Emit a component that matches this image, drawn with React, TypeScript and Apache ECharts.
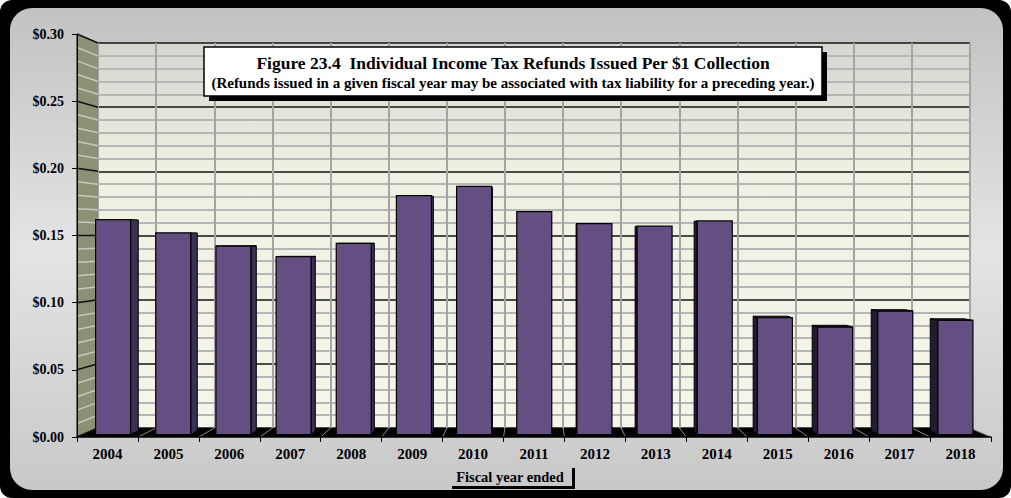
import React, { useEffect, useRef } from "react";
import * as echarts from "echarts";

const years = ["2004", "2005", "2006", "2007", "2008", "2009", "2010", "2011", "2012", "2013", "2014", "2015", "2016", "2017", "2018"];
const refundsPerDollar = [0.162, 0.152, 0.142, 0.134, 0.144, 0.18, 0.187, 0.168, 0.159, 0.157, 0.161, 0.088, 0.081, 0.093, 0.086];
const yTickValues = [0, 0.05, 0.1, 0.15, 0.2, 0.25, 0.3];
const minorStep = 0.01;
const titleLine1 = "Figure 23.4  Individual Income Tax Refunds Issued Per $1 Collection";
const titleLine2 = "(Refunds issued in a given fiscal year may be associated with tax liability for a preceding year.)";
const xAxisTitle = "Fiscal year ended";

const W = 1011;
const H = 498;
const FONT = '"Liberation Serif", "Times New Roman", serif';
const FRONT = { left: 77, top: 34, width: 914, height: 403 };
const BACK = { left: 98, top: 43, width: 872, height: 385 };
const BARS = { left: 83, top: 36.5, width: 902.5, height: 398 };
const VP = [534, 236];
const BAR_DEPTH = 0.019;
const BAR_W = 35;

export default function App() {
  const ref = useRef<HTMLDivElement>(null);
  useEffect(() => {
    if (!ref.current) return;
    const chart = echarts.init(ref.current, undefined, { renderer: "svg", width: W, height: H });
    const yMax = yTickValues[yTickValues.length - 1];
    const option: any = {
      animation: false,
      backgroundColor: "transparent",
      grid: [
        { ...FRONT, containLabel: false },
        {
          ...BACK,
          show: true,
          borderWidth: 0,
          backgroundColor: new echarts.graphic.LinearGradient(0, 0, 0, 1, [
            { offset: 0, color: "#d5d6d0" },
            { offset: 0.33, color: "#eef0e2" },
            { offset: 1, color: "#f5f6ea" },
          ]),
        },
        { ...BARS },
      ],
      xAxis: [
        {
          gridIndex: 0,
          type: "category",
          data: years,
          axisLine: { show: true, lineStyle: { color: "#000", width: 1.5 } },
          axisTick: { show: true, length: 5, lineStyle: { color: "#000", width: 1 } },
          axisLabel: { fontFamily: FONT, fontWeight: "bold", fontSize: 15, color: "#000", margin: 9 },
          splitLine: { show: false },
          z: 3,
        },
        {
          gridIndex: 1,
          type: "category",
          data: years,
          axisLine: { show: false },
          axisTick: { show: false },
          axisLabel: { show: false },
          splitLine: { show: true, lineStyle: { color: "#a4a4a4", width: 2 } },
        },
        { gridIndex: 2, type: "category", data: years, show: false },
      ],
      yAxis: [
        {
          gridIndex: 0,
          type: "value",
          min: 0,
          max: yMax,
          interval: 0.05,
          axisLine: { show: true, lineStyle: { color: "#000", width: 1 } },
          axisTick: { show: true, length: 5, lineStyle: { color: "#000" } },
          axisLabel: {
            fontFamily: FONT,
            fontWeight: "bold",
            fontSize: 14,
            color: "#000",
            margin: 13,
            formatter: (v: number) => "$" + v.toFixed(2),
          },
          splitLine: { show: false },
          z: 3,
        },
        {
          gridIndex: 1,
          type: "value",
          min: 0,
          max: yMax,
          interval: 0.05,
          axisLine: { show: false },
          axisTick: { show: false },
          axisLabel: { show: false },
          splitLine: { show: true, lineStyle: { color: "#151515", width: 1.5 } },
          minorTick: { show: false, splitNumber: 5 },
          minorSplitLine: { show: true, lineStyle: { color: "#b6b6b6", width: 2 } },
        },
        { gridIndex: 2, type: "value", min: 0, max: yMax, show: false },
      ],
      series: [
        {
          type: "custom",
          xAxisIndex: 2,
          yAxisIndex: 2,
          data: years.map((y, i) => [i, refundsPerDollar[i]]),
          encode: { x: 0, y: 1 },
          z: 5,
          renderItem: (params: any, api: any) => {
            const idx = api.value(0);
            const top = api.coord([idx, api.value(1)]);
            const base = api.coord([idx, 0]);
            const cx = top[0];
            const yT = top[1];
            const yB = base[1];
            const xL = cx - BAR_W / 2;
            const xR = cx + BAR_W / 2;
            const back = (x: number, y: number) => [x + BAR_DEPTH * (VP[0] - x), y + BAR_DEPTH * (VP[1] - y)];
            const children: any[] = [];
            const leftOfVp = cx < VP[0];
            const sx = leftOfVp ? xR : xL;
            if (Math.abs(cx - VP[0]) > 3) {
              children.push({
                type: "polygon",
                shape: { points: [[sx, yT], back(sx, yT), back(sx, yB), [sx, yB]] },
                style: { fill: leftOfVp ? "#3c2f54" : "#231b31", stroke: "#000", lineWidth: 1 },
              });
            }
            if (yT > VP[1]) {
              children.push({
                type: "polygon",
                shape: { points: [[xL, yT], [xR, yT], back(xR, yT), back(xL, yT)] },
                style: { fill: "#2a2138", stroke: "#000", lineWidth: 1 },
              });
            }
            children.push({
              type: "rect",
              shape: { x: xL, y: yT, width: BAR_W, height: yB - yT },
              style: { fill: "#654f82", stroke: "#000", lineWidth: 1.2 },
            });
            return { type: "group", children };
          },
        },
      ],
    };
    chart.setOption(option);

    // decorations computed through the axes
    const yF = (v: number) => chart.convertToPixel({ yAxisIndex: 0 }, v) as number;
    const yBk = (v: number) => chart.convertToPixel({ yAxisIndex: 1 }, v) as number;
    const xFc = (i: number) => chart.convertToPixel({ xAxisIndex: 0 }, i) as number;
    const xBc = (i: number) => chart.convertToPixel({ xAxisIndex: 1 }, i) as number;
    const bandF = xFc(1) - xFc(0);
    const bandB = xBc(1) - xBc(0);
    const fx0 = xFc(0) - bandF / 2;
    const bx0 = xBc(0) - bandB / 2;
    const n = years.length;
    const fx1 = fx0 + bandF * n;
    const bx1 = bx0 + bandB * n;

    const graphics: any[] = [];
    graphics.push({ type: "rect", z: -20, silent: true, shape: { x: 0, y: 0, width: W, height: H, r: 12 }, style: { fill: "#000" } });
    graphics.push({
      type: "rect",
      z: -19,
      silent: true,
      shape: { x: 10, y: 8, width: 993, height: 482, r: 22 },
      style: {
        fill: new echarts.graphic.LinearGradient(0, 0, 0, 1, [
          { offset: 0, color: "#c2c2c2" },
          { offset: 0.5, color: "#e4e4e4" },
          { offset: 1, color: "#c8c8c8" },
        ]),
      },
    });
    // side wall
    graphics.push({
      type: "polygon",
      z: 1,
      silent: true,
      shape: { points: [[fx0, yF(yMax)], [bx0, yBk(yMax)], [bx0, yBk(0)], [fx0, yF(0)]] },
      style: { fill: "#8a9175" },
    });
    const steps = Math.round(yMax / minorStep);
    for (let s = 0; s <= steps; s++) {
      const v = s * minorStep;
      const major = s % 5 === 0;
      graphics.push({
        type: "line",
        z: major ? 2 : 1.5,
        silent: true,
        shape: { x1: fx0, y1: yF(v), x2: bx0, y2: yBk(v) },
        style: { stroke: major ? "#111" : "#c6c9ba", lineWidth: 1.5 },
      });
    }
    graphics.push({ type: "line", z: 2, silent: true, shape: { x1: fx0, y1: yF(yMax), x2: fx0, y2: yF(0) }, style: { stroke: "#000", lineWidth: 1 } });
    // floor
    graphics.push({
      type: "polygon",
      z: 1,
      silent: true,
      shape: { points: [[fx0, yF(0)], [fx1, yF(0)], [bx1, yBk(0)], [bx0, yBk(0)]] },
      style: { fill: "#000" },
    });
    for (let i = 1; i <= n; i++) {
      graphics.push({
        type: "line",
        z: 1.5,
        silent: true,
        shape: { x1: fx0 + bandF * i, y1: yF(0), x2: bx0 + bandB * i, y2: yBk(0) },
        style: { stroke: "#8a8a8a", lineWidth: 1 },
      });
    }
    // title box
    graphics.push({ type: "rect", z: 10, silent: true, shape: { x: 209, y: 52, width: 618, height: 49 }, style: { fill: "#000" } });
    graphics.push({ type: "rect", z: 11, silent: true, shape: { x: 204, y: 47, width: 618, height: 49 }, style: { fill: "#fff", stroke: "#000", lineWidth: 1.5 } });
    graphics.push({
      type: "text",
      z: 12,
      silent: true,
      style: { text: titleLine1, x: 513, y: 63, align: "center", verticalAlign: "middle", fontFamily: FONT, fontWeight: "bold", fontSize: 17.5, fill: "#000" },
    });
    graphics.push({
      type: "text",
      z: 12,
      silent: true,
      style: { text: titleLine2, x: 513, y: 83, align: "center", verticalAlign: "middle", fontFamily: FONT, fontWeight: "bold", fontSize: 15, fill: "#000" },
    });
    // x axis title
    graphics.push({
      type: "text",
      z: 12,
      silent: true,
      style: { text: xAxisTitle, x: 510, y: 477, align: "center", verticalAlign: "middle", fontFamily: FONT, fontWeight: "bold", fontSize: 14.5, fill: "#000" },
    });
    graphics.push({ type: "rect", z: 12, silent: true, shape: { x: 452, y: 486, width: 123, height: 3 }, style: { fill: "#000" } });
    graphics.push({ type: "rect", z: 12, silent: true, shape: { x: 572, y: 468, width: 3, height: 21 }, style: { fill: "#000" } });

    chart.setOption({ graphic: graphics });
    return () => chart.dispose();
  }, []);
  return <div ref={ref} style={{ position: "fixed", left: 0, top: 0, width: W, height: H, background: "#fff" }} />;
}
